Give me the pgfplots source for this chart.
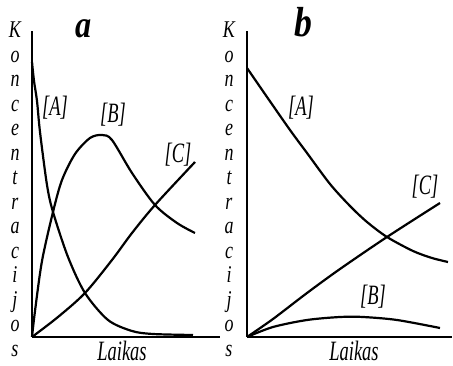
\documentclass[border=0pt]{standalone}
\usepackage{fontspec}
\usepackage{pgfplots}
\pgfplotsset{compat=1.18}
\setmainfont{Liberation Serif}
\newfontfamily\lab[FakeStretch=0.75]{Liberation Serif}
\newfontfamily\labwide[FakeStretch=0.66]{Liberation Serif}
\newfontfamily\ttl[FakeStretch=0.85]{Liberation Serif}

% concentration profiles, in pt above/right of each axis origin
\pgfplotstableread{
t c
0 275
2 256
5 236
8 205
15 152
21 125
36 80
53 44
76 17
100 6
121 3
161 2
}\aA
\pgfplotstableread{
t c
0 0
3 26
10 76
21 125
30 157
43 183
58 199
70 202
80 197
100 164
123 132
145 114
163 104
}\aB
\pgfplotstableread{
t c
0 0
26 20
53 44
80 77
100 104
123 132
163 175
}\aC
\pgfplotstableread{
t c
0 269
20 240
43 207
60 184
83 153
103 131
120 115
140 100
166 86
185 79
201 75
}\bA
\pgfplotstableread{
t c
0 0
26 10
60 17
93 20
116 20
150 17
193 9
}\bB
\pgfplotstableread{
t c
0 0
26 18
60 44
93 68
140 100
193 134
}\bC

\pgfplotsset{
  kin/.style={
    scale only axis, anchor=south west,
    axis lines=left, axis line style={-, line width=1.6pt},
    xtick=\empty, ytick=\empty,
    ymin=0, ymax=306, height=306pt, clip=false,
  },
  curve/.style={black, line width=2.2pt, smooth, tension=0.5, no markers},
}

\begin{document}
\begin{tikzpicture}[x=1pt,y=1pt]
\useasboundingbox (0,0) rectangle (453,366);

\begin{axis}[kin, at={(32pt,29pt)}, xmin=0, xmax=188, width=188pt]
  \addplot[curve] table {\aA};
  \addplot[curve] table {\aB};
  \addplot[curve] table {\aC};
\end{axis}

\begin{axis}[kin, at={(247pt,29pt)}, xmin=0, xmax=205, width=205pt,
             axis line style={-, line width=1.2pt}]
  \addplot[curve] table {\bA};
  \addplot[curve] table {\bB};
  \addplot[curve] table {\bC};
\end{axis}

% panel letters
\node[anchor=base, font={\ttl\fontsize{38}{38}\selectfont\bfseries\itshape}] at (84,328) {a};
\node[anchor=base, font={\ttl\fontsize{42}{42}\selectfont\bfseries\itshape}] at (303,329) {b};

% vertical axis titles
\foreach \ch [count=\i] in {K,o,n,c,e,n,t,r,a,c,i,j,o,s} {
  \node[anchor=base, inner sep=0pt, font={\lab\fontsize{24}{26}\selectfont\itshape}] at (15,{366-38-(\i-1)*24.5}) {\ch};
  \node[anchor=base, inner sep=0pt, font={\lab\fontsize{24}{26}\selectfont\itshape}] at (229,{366-38-(\i-1)*24.5}) {\ch};
}

% horizontal axis titles
\node[anchor=base, inner sep=0pt, font={\labwide\fontsize{28}{30}\selectfont\itshape}] at (122,5) {Laikas};
\node[anchor=base, inner sep=0pt, font={\labwide\fontsize{28}{30}\selectfont\itshape}] at (354,5) {Laikas};

% curve labels
\begin{scope}[every node/.style={font={\labwide\fontsize{28}{30}\selectfont\itshape}}]
  \node at (55,258) {[A]};
  \node at (113,251) {[B]};
  \node at (178,211) {[C]};
  \node at (301,258) {[A]};
  \node at (425,179) {[C]};
  \node at (373,69) {[B]};
\end{scope}
\end{tikzpicture}
\end{document}
